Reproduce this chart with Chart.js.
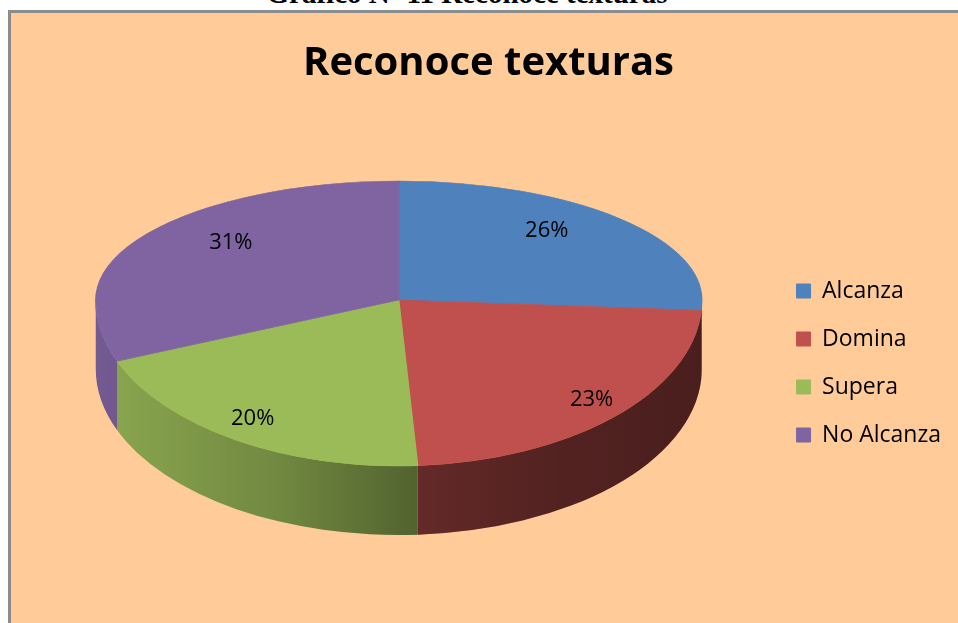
<!DOCTYPE html>
<html>
<head>
<meta charset="utf-8">
<script src="https://cdn.jsdelivr.net/npm/chart.js@4"></script>
<style>
  body { margin: 0; background: #fff; width: 958px; height: 623px; overflow: hidden; position: relative; }
  #caption { position: absolute; left: -12px; top: -23px; width: 958px; text-align: center;
             font: bold 29px "Liberation Serif", serif; color: #000; }
  #box { position: absolute; left: 8px; top: 10px; width: 947px; height: 610px;
         background: #FFCC99; border-left: 3px solid #8c8c8c; border-top: 3px solid #8c8c8c; }
</style>
</head>
<body>
<div id="caption">Gráfico Nº 11 Reconoce texturas</div>
<div id="box"><canvas id="pieChart" width="947" height="610"></canvas></div>
<script>
// DATA
const categories = ["Alcanza", "Domina", "Supera", "No Alcanza"];
const percentages = [26, 23, 20, 31];
const sliceColors = ["#4F81BD", "#C0504D", "#9BBB59", "#8064A2"];

// 3D LOOK (view only)
const STRETCH_X = 303;     // half width of the top face, px
const TILT_BACK = 119;     // back half height of top face, px
const TILT_FRONT = 166;    // front half height of top face, px
const DEPTH = 69;          // thickness of the pie, px
const LIFT = 56;           // move the drawn pie up from the layout centre
const LEGEND_DROP = 50;    // legend sits lower than centred
const LEGEND_LEFT = 7;

function view(chart) {
    const arcs = chart.getDatasetMeta(0).data;
    const a = arcs[0];
    return { arcs, R: a.outerRadius, ox: a.x, oy: a.y, cx: a.x, cy: Math.round(a.y - LIFT) };
}

const pie3d = {
    id: "pie3d",
    afterLayout(chart) {
        const lg = chart.legend;
        lg.top += LEGEND_DROP;
        lg.bottom += LEGEND_DROP;
        lg.left -= LEGEND_LEFT;
        lg.right -= LEGEND_LEFT;
    },
    beforeDatasetsDraw(chart) {
        const ctx = chart.ctx;
        const v = view(chart);

        // side walls, only the front half shows
        const shade = ctx.createLinearGradient(v.cx - STRETCH_X, 0, v.cx + STRETCH_X, 0);
        shade.addColorStop(0, "rgba(0,0,0,0.10)");
        shade.addColorStop(0.3, "rgba(0,0,0,0.27)");
        shade.addColorStop(0.55, "rgba(0,0,0,0.49)");
        shade.addColorStop(0.75, "rgba(0,0,0,0.57)");
        shade.addColorStop(1, "rgba(0,0,0,0.62)");
        v.arcs.forEach((arc, i) => {
            const s = Math.max(arc.startAngle, 0);
            const e = Math.min(arc.endAngle, Math.PI);
            if (s >= e) return;
            ctx.save();
            ctx.beginPath();
            ctx.ellipse(v.cx, v.cy, STRETCH_X, TILT_FRONT, 0, s, e);
            ctx.ellipse(v.cx, v.cy + DEPTH, STRETCH_X, TILT_FRONT, 0, e, s, true);
            ctx.closePath();
            ctx.fillStyle = sliceColors[i];
            ctx.fill();
            ctx.fillStyle = shade;
            ctx.fill();
            ctx.restore();
        });

        // top face: back and front halves squeezed differently
        const half = (ry, y0, h) => {
            ctx.save();
            ctx.beginPath();
            ctx.rect(0, y0, chart.width, h);
            ctx.clip();
            ctx.translate(v.cx, v.cy);
            ctx.scale(STRETCH_X / v.R, ry / v.R);
            ctx.translate(-v.ox, -v.oy);
            v.arcs.forEach(arc => arc.draw(ctx));
            ctx.restore();
        };
        half(TILT_BACK, 0, v.cy + 1);
        half(TILT_FRONT, v.cy, chart.height - v.cy);
        return false;
    },
    afterDraw(chart) {
        const ctx = chart.ctx;
        const v = view(chart);
        ctx.save();
        ctx.font = "22px 'Open Sans'";
        ctx.fillStyle = "#000";
        ctx.textAlign = "center";
        ctx.textBaseline = "middle";
        v.arcs.forEach((arc, i) => {
            const mid = (arc.startAngle + arc.endAngle) / 2;
            const back = Math.sin(mid) < 0;
            const fx = back ? 0.67 : 0.9;
            const ry = back ? TILT_BACK : TILT_FRONT;
            const x = v.cx + STRETCH_X * fx * Math.cos(mid);
            const y = v.cy + ry * 0.85 * Math.sin(mid);
            ctx.fillText(percentages[i] + "%", x, y);
        });
        ctx.restore();
    }
};

// CHART
new Chart(document.getElementById("pieChart"), {
    type: "pie",
    data: {
        labels: categories,
        datasets: [{
            data: percentages,
            backgroundColor: sliceColors,
            borderColor: sliceColors,
            borderWidth: 1,
            hoverOffset: 0
        }]
    },
    options: {
        responsive: false,
        animation: false,
        layout: { padding: { left: 8, bottom: 10 } },
        plugins: {
            title: {
                display: true,
                text: "Reconoce texturas",
                color: "#000",
                font: { family: "Open Sans", size: 40, weight: "bold" },
                padding: { top: 27, bottom: 10 }
            },
            legend: {
                position: "right",
                labels: {
                    color: "#000",
                    boxWidth: 14,
                    boxHeight: 14,
                    padding: 25,
                    font: { family: "Open Sans", size: 23 }
                }
            },
            tooltip: { enabled: false }
        }
    },
    plugins: [pie3d]
});
</script>
</body>
</html>
